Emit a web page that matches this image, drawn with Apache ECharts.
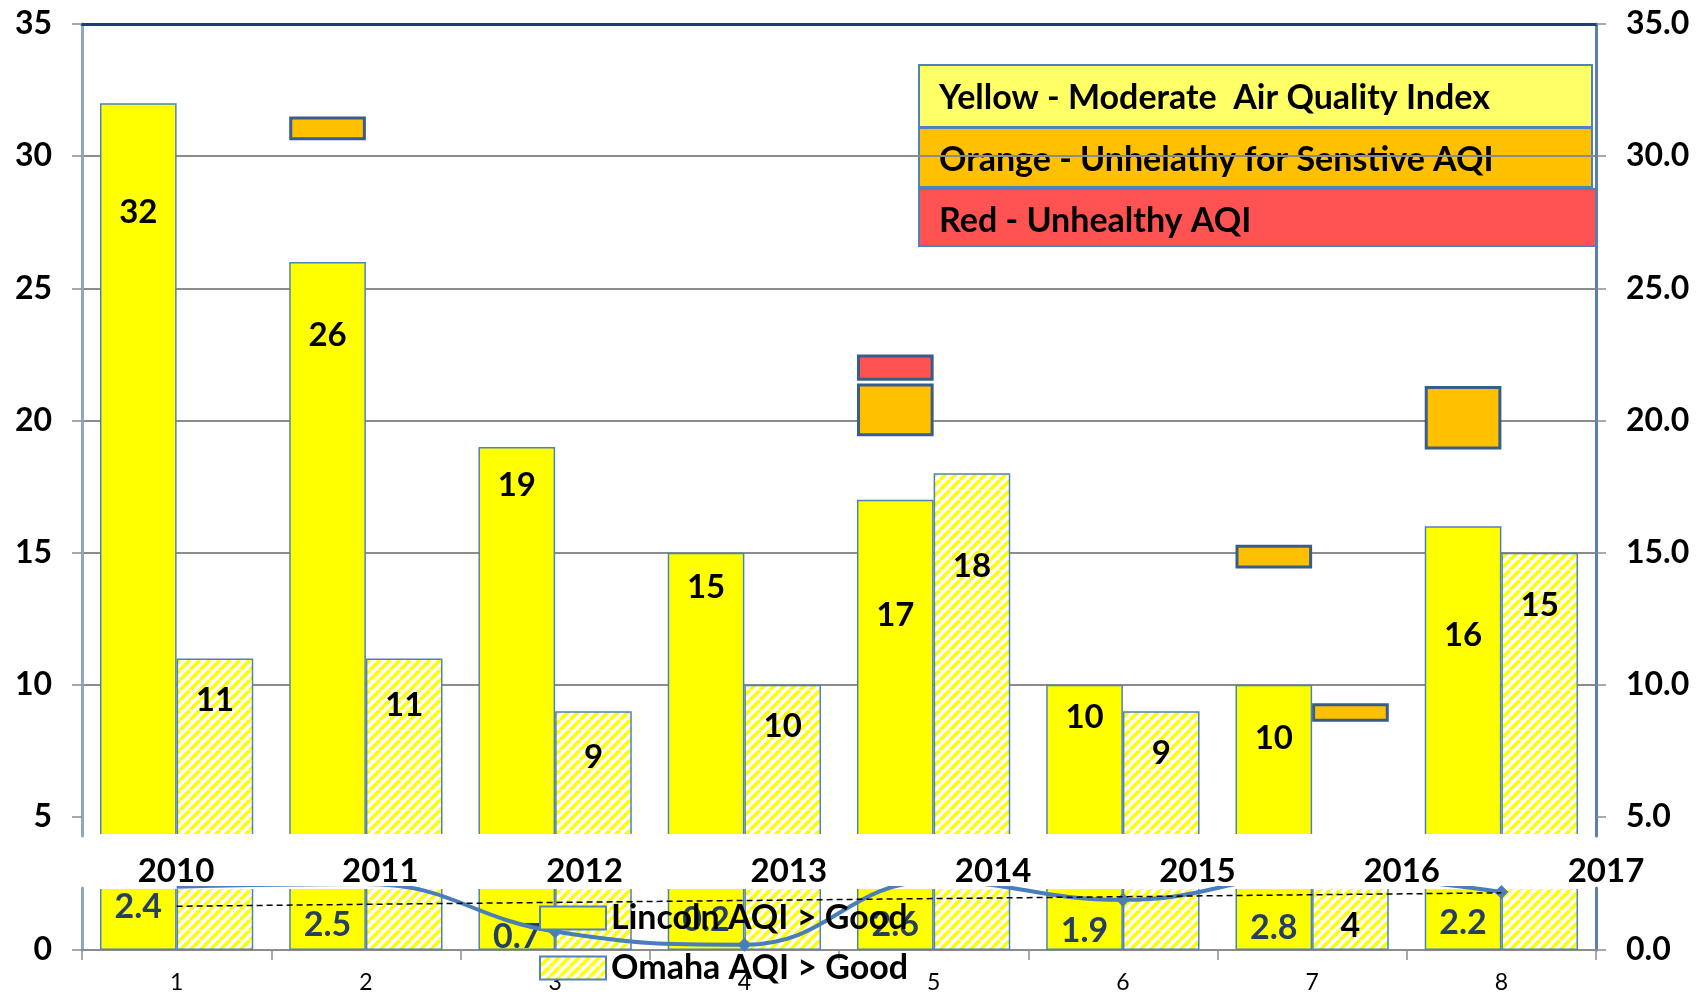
<!DOCTYPE html>
<html>
<head>
<meta charset="utf-8">
<script src="https://cdn.jsdelivr.net/npm/echarts@6/dist/echarts.min.js"></script>
<style>
html, body { margin: 0; padding: 0; background: #fff; }
#chart { width: 1702px; height: 995px; }
</style>
</head>
<body>
<div id="chart"></div>
<script>
// values
var categories = ['1', '2', '3', '4', '5', '6', '7', '8'];
var years = ['2010', '2011', '2012', '2013', '2014', '2015', '2016', '2017'];
var lincoln = [32, 26, 19, 15, 17, 10, 10, 16];
var omaha = [11, 11, 9, 10, 18, 9, 4, 15];
var lincolnLine = [2.4, 2.5, 0.7, 0.2, 2.6, 1.9, 2.8, 2.2];
// floating boxes [low, high]
var lincolnOrange = [null, [30.6, 31.5], null, null, [19.4, 21.4], null, [14.4, 15.3], [18.9, 21.3]];
var lincolnRed = [null, null, null, null, [21.5, 22.5], null, null, null];
var omahaOrange = [null, null, null, null, null, null, [8.6, 9.3], null];
var leftTicks = [5, 10, 15, 20, 25, 30, 35];
var keyItems = ['Yellow - Moderate  Air Quality Index', 'Orange - Unhelathy for Senstive AQI', 'Red - Unhealthy AQI'];

// label placement (px below bar top)
var topDistL = [93, 57, 22, 18, 99, 16, 37, 93];
var topDistO = [25, 30, 30, 25, 77, 26, 0, 36];
var lowDistL = [3, 21, 33, 16, 21, 27, 24, 19];

var FONT = 'Lato';
var chart = echarts.init(document.getElementById('chart'));

// hatch fill for Omaha
var hatch = document.createElement('canvas');
hatch.width = 10; hatch.height = 10;
var hc = hatch.getContext('2d');
hc.fillStyle = '#fff';
hc.fillRect(0, 0, 10, 10);
hc.strokeStyle = '#FFFF00';
hc.lineWidth = 3.5;
[-10, 0, 10].forEach(function (k) {
    hc.beginPath();
    hc.moveTo(k, 10);
    hc.lineTo(k + 10, 0);
    hc.stroke();
});
var hatchFill = { image: hatch, repeat: 'repeat' };

// stacked pieces for the floating boxes
function gapTo(boxes, base) {
    return boxes.map(function (b, i) { return b ? b[0] - base[i] : null; });
}
function span(boxes) {
    return boxes.map(function (b) { return b ? b[1] - b[0] : null; });
}
var gapL = gapTo(lincolnOrange, lincoln);
var orL = span(lincolnOrange);
var gap2L = lincolnRed.map(function (b, i) { return b ? b[0] - lincolnOrange[i][1] : null; });
var redL = span(lincolnRed);
var gapO = gapTo(omahaOrange, omaha);
var orO = span(omahaOrange);

// linear trend of the line values
var n = lincolnLine.length, sx = 0, sy = 0, sxy = 0, sxx = 0;
lincolnLine.forEach(function (v, i) {
    var x = i + 1;
    sx += x; sy += v; sxy += x * v; sxx += x * x;
});
var slope = (n * sxy - sx * sy) / (n * sxx - sx * sx);
var icpt = (sy - slope * sx) / n;
var trend = lincolnLine.map(function (v, i) { return +(icpt + slope * (i + 1)).toFixed(3); });

var barBorder = '#4F81BD';
var boxBorder = '#385D8A';
var bold = { fontFamily: FONT, fontWeight: 'bold', fontSize: 32, color: '#000' };

function boxSeries(name, stack, data, color) {
    return {
        name: name, type: 'bar', stack: stack, xAxisIndex: 0, yAxisIndex: 0,
        barGap: '0%', barCategoryGap: '19%', silent: true,
        data: data,
        itemStyle: color ? { color: color, borderColor: boxBorder, borderWidth: 3 } : { color: 'rgba(0,0,0,0)' }
    };
}

chart.setOption({
    animation: false,
    backgroundColor: '#fff',
    grid: [
        { left: 82, right: 106, top: 24, height: 812 },
        { left: 82, right: 106, top: 888, height: 62 },
        { left: 176, right: 96, top: 840, height: 10 }
    ],
    xAxis: [
        {
            type: 'category', gridIndex: 0, data: categories, position: 'top',
            axisLine: { lineStyle: { color: '#1F3F6E', width: 3 } },
            axisTick: { show: false }, axisLabel: { show: false }
        },
        {
            type: 'category', gridIndex: 1, data: categories,
            axisLine: { lineStyle: { color: '#8C8C8C', width: 2 } },
            axisTick: { show: true, length: 10, lineStyle: { color: '#8C8C8C', width: 1.5 } },
            axisLabel: { margin: 21, fontFamily: FONT, fontSize: 23, color: '#000' }
        },
        {
            type: 'category', gridIndex: 2, data: years, boundaryGap: false,
            axisLine: { show: false }, axisTick: { show: false },
            axisLabel: Object.assign({ interval: 0, margin: 5 }, bold, { fontSize: 33 })
        }
    ],
    yAxis: [
        {
            type: 'value', gridIndex: 0, min: 4.28, max: 35,
            axisLine: { show: true, lineStyle: { color: '#8EA6C6', width: 3 } },
            axisTick: { show: true, length: 10, customValues: leftTicks, lineStyle: { color: '#8C8C8C', width: 1.5 } },
            axisLabel: Object.assign({ margin: 30, customValues: leftTicks,
                formatter: function (v) { return v % 5 === 0 ? String(v) : ''; } }, bold),
            splitLine: { show: true, showMinLine: false, lineStyle: { color: '#8C8C8C', width: 2 } }
        },
        {
            type: 'value', gridIndex: 0, min: 4.28, max: 35, position: 'right',
            axisLine: { show: true, lineStyle: { color: '#5B7DB1', width: 3 } },
            axisTick: { show: true, length: 10, customValues: leftTicks, lineStyle: { color: '#8C8C8C', width: 1.5 } },
            axisLabel: Object.assign({ margin: 30, customValues: leftTicks,
                formatter: function (v) { return v % 5 === 0 ? v.toFixed(1) : ''; } }, bold),
            splitLine: { show: false }
        },
        {
            type: 'value', gridIndex: 1, min: 0, max: 2.35,
            axisLine: { show: true, lineStyle: { color: '#8EA6C6', width: 3 } },
            axisTick: { show: true, length: 10, customValues: [0], lineStyle: { color: '#8C8C8C', width: 1.5 } },
            axisLabel: Object.assign({ margin: 30, customValues: [0],
                formatter: function (v) { return v === 0 ? '0' : ''; } }, bold),
            splitLine: { show: false }
        },
        {
            type: 'value', gridIndex: 1, min: 0, max: 2.35, position: 'right',
            axisLine: { show: true, lineStyle: { color: '#5B7DB1', width: 3 } },
            axisTick: { show: true, length: 10, customValues: [0], lineStyle: { color: '#8C8C8C', width: 1.5 } },
            axisLabel: Object.assign({ margin: 30, customValues: [0],
                formatter: function (v) { return v === 0 ? '0.0' : ''; } }, bold),
            splitLine: { show: false }
        },
        { type: 'value', gridIndex: 2, show: false }
    ],
    legend: {
        data: ['Lincoln AQI > Good', 'Omaha AQI > Good'],
        left: 539, top: 901, orient: 'vertical', padding: 0,
        itemWidth: 66, itemHeight: 23, itemGap: 16, icon: 'rect',
        textStyle: { fontFamily: FONT, fontWeight: 'bold', fontSize: 34, color: '#000' }
    },
    series: [
        {
            name: 'Lincoln AQI > Good', type: 'bar', stack: 'L', xAxisIndex: 0, yAxisIndex: 0,
            barGap: '0%', barCategoryGap: '19%',
            data: lincoln.map(function (v, i) { return { value: v, label: { distance: topDistL[i] } }; }),
            itemStyle: { color: '#FFFF00', borderColor: barBorder, borderWidth: 1.5 },
            label: Object.assign({ show: true, position: 'insideTop' }, bold, { fontSize: 33 })
        },
        {
            name: 'Omaha AQI > Good', type: 'bar', stack: 'O', xAxisIndex: 0, yAxisIndex: 0,
            barGap: '0%', barCategoryGap: '19%',
            data: omaha.map(function (v, i) { return { value: v, label: { distance: topDistO[i] } }; }),
            itemStyle: { color: hatchFill, borderColor: barBorder, borderWidth: 1.5 },
            label: Object.assign({ show: true, position: 'insideTop' }, bold, { fontSize: 33 })
        },
        boxSeries('gapL', 'L', gapL, null),
        boxSeries('Orange L', 'L', orL, '#FFC000'),
        boxSeries('gap2L', 'L', gap2L, null),
        boxSeries('Red L', 'L', redL, '#FF5353'),
        boxSeries('gapO', 'O', gapO, null),
        boxSeries('Orange O', 'O', orO, '#FFC000'),
        {
            name: 'Lincoln AQI > Good', type: 'bar', xAxisIndex: 1, yAxisIndex: 2,
            barGap: '0%', barCategoryGap: '19%',
            data: lincoln.map(function (v, i) { return { value: v, label: { distance: lowDistL[i] } }; }),
            itemStyle: { color: '#FFFF00', borderColor: barBorder, borderWidth: 1.5 },
            label: Object.assign({ show: true, position: 'insideTop',
                formatter: function (p) { return String(lincolnLine[p.dataIndex]); } }, bold, { color: '#243F60', fontSize: 34 })
        },
        {
            name: 'Omaha AQI > Good', type: 'bar', xAxisIndex: 1, yAxisIndex: 2,
            barGap: '0%', barCategoryGap: '19%',
            data: omaha.map(function (v, i) {
                return { value: v, label: { show: v < 5, distance: 22 } };
            }),
            itemStyle: { color: hatchFill, borderColor: barBorder, borderWidth: 1.5 },
            label: Object.assign({ show: false, position: 'insideTop' }, bold, { fontSize: 34 })
        },
        {
            name: 'Lincoln line', type: 'line', xAxisIndex: 1, yAxisIndex: 2,
            data: lincolnLine, smooth: 0.45, symbol: 'diamond', symbolSize: 14,
            lineStyle: { color: '#4A7EBB', width: 4 },
            itemStyle: { color: '#4A7EBB' }, z: 3
        },
        {
            name: 'Trend', type: 'line', xAxisIndex: 1, yAxisIndex: 2,
            data: trend, symbol: 'none', silent: true,
            lineStyle: { color: '#000', width: 1.5, type: [6, 4] }, z: 4
        }
    ],
    graphic: [
        // open bar ends at the axis break
        { type: 'rect', z: 2.5, shape: { x: 84, y: 834, width: 1510, height: 4 }, style: { fill: '#fff' } },
        { type: 'rect', z: 2.5, shape: { x: 84, y: 886, width: 1510, height: 3 }, style: { fill: '#fff' } },
        { type: 'rect', shape: { x: 919, y: 65, width: 673, height: 62 },
          style: { fill: '#FFFF66', stroke: '#4F81BD', lineWidth: 2 } },
        { type: 'rect', shape: { x: 919, y: 128, width: 673, height: 59 },
          style: { fill: '#FFC000', stroke: '#4F81BD', lineWidth: 2 } },
        { type: 'rect', shape: { x: 919, y: 189, width: 677, height: 57 },
          style: { fill: '#FF5353', stroke: '#4F81BD', lineWidth: 2 } }
    ].concat(keyItems.map(function (t, i) {
        return {
            type: 'text', x: 939, y: [98, 160, 221][i],
            style: { text: t, fill: '#000', font: 'bold 34px ' + FONT, verticalAlign: 'middle' }
        };
    }))
});
</script>
</body>
</html>
